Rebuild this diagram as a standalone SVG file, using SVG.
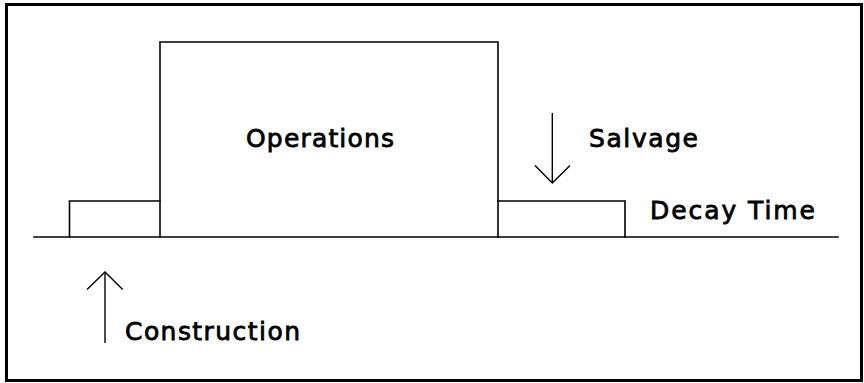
<svg xmlns="http://www.w3.org/2000/svg" width="864" height="383" viewBox="0 0 864 383">
<style>
.frame{fill:none;stroke:#000;stroke-width:3}
.ln{fill:none;stroke:#000;stroke-width:1.6;stroke-linecap:square}
.ar{fill:none;stroke:#000;stroke-width:1.4}
.lbl{font-family:"DejaVu Sans","Liberation Sans",Arial,sans-serif;font-size:25px;fill:#000;stroke:#000;stroke-width:0.8}
</style>
<rect class="frame" x="6.5" y="4.5" width="855" height="376"/>
<g id="timeline">
<line class="ln" x1="34" y1="237" x2="838" y2="237"/>
</g>
<g id="construction-phase">
<polyline class="ln" points="69.5,237 69.5,201 160,201"/>
</g>
<g id="operations">
<polyline class="ln" points="160,237 160,42 498,42 498,237"/>
<text class="lbl" x="246" y="147" textLength="148" lengthAdjust="spacing">Operations</text>
</g>
<g id="decay">
<polyline class="ln" points="498,201 625,201 625,237"/>
<text class="lbl" x="650" y="218.5" textLength="165" lengthAdjust="spacing">Decay Time</text>
</g>
<g id="salvage">
<text class="lbl" x="589" y="146.5" textLength="109" lengthAdjust="spacing">Salvage</text>
</g>
<g id="construction">
<text class="lbl" x="125" y="339.5" textLength="175" lengthAdjust="spacing">Construction</text>
</g>
<g id="connectors">
<line class="ar" x1="552.3" y1="113" x2="552.3" y2="183"/>
<polyline class="ar" points="535,165.5 552.3,183 570,165.5"/>
<line class="ar" x1="105" y1="272" x2="105" y2="343"/>
<polyline class="ar" points="87,289.5 105,272 122.7,289.5"/>
</g>
</svg>
